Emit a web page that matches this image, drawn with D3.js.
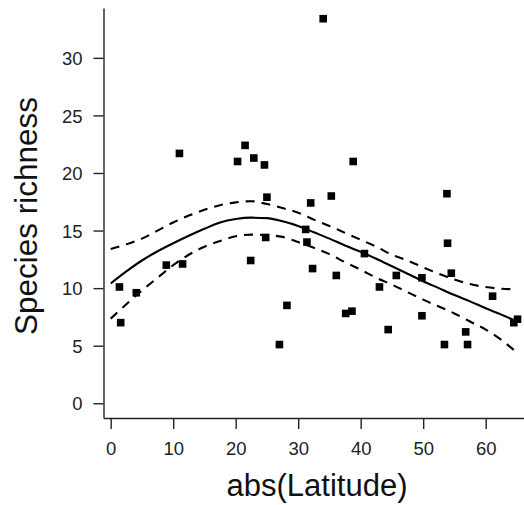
<!DOCTYPE html>
<html><head><meta charset="utf-8">
<script src="https://cdn.jsdelivr.net/npm/d3@7"></script>
<style>html,body{margin:0;padding:0;background:#fff;}</style>
</head><body>
<svg id="chart" width="524" height="505"></svg>
<script>
// Observed points: abs(Latitude) and species richness
const latitude = [1.4,1.6,4.1,8.9,11.0,11.5,20.3,21.5,22.4,22.9,24.6,24.8,25.0,27.0,28.2,31.2,31.4,32.0,32.3,34.0,35.3,36.1,37.6,38.6,38.8,40.6,43.0,44.4,45.7,49.8,49.8,53.4,53.8,53.9,54.5,56.8,57.1,61.1,64.5,65.1];
const richness = [10.1,7.0,9.6,12.0,21.7,12.1,21.0,22.4,12.4,21.3,20.7,14.4,17.9,5.1,8.5,15.1,14.0,17.4,11.7,33.4,18.0,11.1,7.8,8.0,21.0,13.0,10.1,6.4,11.1,10.9,7.6,5.1,18.2,13.9,11.3,6.2,5.1,9.3,7.0,7.3];
// Fitted curve and confidence band
const fitX = [0,2.5,5,7.5,10,12.5,15,17.5,20,22.5,25,27.5,30,32.5,35,37.5,40,42.5,45,47.5,50,52.5,55,57.5,60,62.5,65];
const fitY = [10.4,11.45,12.4,13.2,13.9,14.55,15.15,15.7,16.0,16.12,16.08,15.8,15.4,14.85,14.3,13.7,13.15,12.55,11.9,11.25,10.6,10.0,9.4,8.85,8.25,7.7,7.1];
const upperY = [13.4,13.8,14.3,15.0,15.7,16.3,16.8,17.2,17.45,17.55,17.3,16.95,16.55,15.95,15.4,14.8,14.2,13.6,12.9,12.4,11.8,11.25,10.75,10.35,10.1,9.95,9.9];
const lowerY = [7.35,8.6,9.8,10.9,12.0,12.9,13.6,14.1,14.5,14.65,14.6,14.45,14.0,13.5,12.95,12.25,11.6,10.9,10.3,9.65,9.0,8.4,7.8,7.1,6.4,5.5,4.4];
const xTicks = [0,10,20,30,40,50,60];
const yTicks = [0,5,10,15,20,25,30];
const xTitle = "abs(Latitude)";
const yTitle = "Species richness";

const svg = d3.select("#chart");
const font = "'Liberation Sans', Arial, sans-serif";
const x = d3.scaleLinear().domain([-1.15, 67.65]).range([103.5, 533.5]);
const y = d3.scaleLinear().domain([-1.28, 34.33]).range([418, 8]);

// axes
const xAxis = svg.append("g").attr("transform","translate(0,418)")
  .call(d3.axisBottom(x).tickValues(xTicks).tickSize(11).tickPadding(13).tickSizeOuter(0));
const yAxis = svg.append("g").attr("transform","translate(103.5,0)")
  .call(d3.axisLeft(y).tickValues(yTicks).tickSize(10).tickPadding(11).tickSizeOuter(0));
[xAxis,yAxis].forEach(g=>{
  g.select(".domain").attr("stroke","#222").attr("stroke-width",1.4);
  g.selectAll(".tick line").attr("stroke","#222").attr("stroke-width",1.4);
  g.selectAll(".tick text").attr("fill","#222").style("font-family",font).style("font-size","18.5px");
});
yAxis.selectAll(".tick text").attr("dy","0.36em");
xAxis.selectAll(".tick text").attr("dy","0.71em");

// curves
const line = d3.line().x(d=>x(d[0])).y(d=>y(d[1])).curve(d3.curveMonotoneX);
svg.append("path").datum(d3.zip(fitX,fitY)).attr("d",line)
  .attr("fill","none").attr("stroke","#000").attr("stroke-width",2.1);
[upperY,lowerY].forEach(arr=>{
  svg.append("path").datum(d3.zip(fitX,arr)).attr("d",line)
    .attr("fill","none").attr("stroke","#000").attr("stroke-width",2.1)
    .attr("stroke-dasharray","9,7");
});

// points
const s = 7.6;
svg.append("g").selectAll("rect").data(d3.zip(latitude,richness)).join("rect")
  .attr("x",d=>x(d[0])-s/2).attr("y",d=>y(d[1])-s/2)
  .attr("width",s).attr("height",s).attr("fill","#000");

// titles
svg.append("text").attr("x",317).attr("y",496).attr("text-anchor","middle")
  .style("font-family",font).style("font-size","31px").attr("fill","#111").text(xTitle);
svg.append("text").attr("transform","translate(37,216) rotate(-90)").attr("text-anchor","middle")
  .style("font-family",font).style("font-size","31.5px").attr("fill","#111").text(yTitle);
</script>
</body></html>
